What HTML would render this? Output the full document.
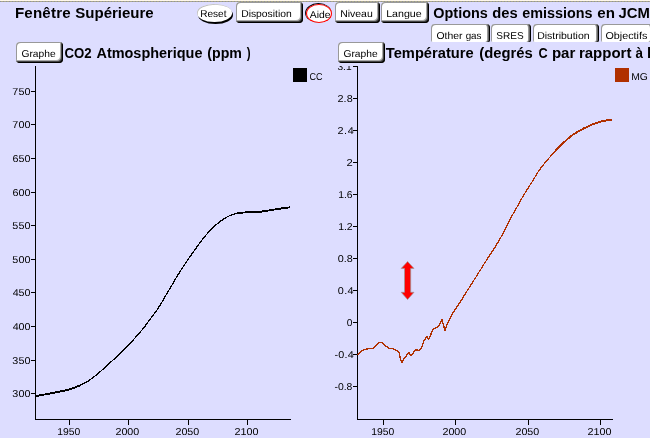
<!DOCTYPE html>
<html lang="fr">
<head>
<meta charset="utf-8">
<title>Fenêtre Supérieure</title>
<style>
html,body{margin:0;padding:0;}
body{width:650px;height:438px;overflow:hidden;background:#ddddff;position:relative;font-family:"Liberation Sans",Arial,sans-serif;color:#000;}
.topline{position:absolute;left:0;top:0;width:650px;height:2px;background:linear-gradient(#fff8ec 0 1px,transparent 1px),repeating-linear-gradient(90deg,#90909c 0 1px,#aba98a 1px 3px);}
.layer{position:absolute;left:0;top:0;}
.grp{position:absolute;left:0;top:0;width:0;height:0;}
.clip{position:absolute;left:0;top:66px;width:650px;height:372px;overflow:hidden;}
.clip .in{position:absolute;left:0;top:-66px;}
.w{position:absolute;white-space:nowrap;line-height:20px;transform:scaleX(1.08);transform-origin:0 0;}
.b{font-weight:bold;font-size:14px;}
.r{font-size:10px;text-rendering:geometricPrecision;}
.btn{position:absolute;box-sizing:border-box;background:#fff;border-radius:4px;
  box-shadow:inset 1px 1px 0 #999, inset -1px -1px 0 #000, inset -2px -2px 0 #444, inset -3px -3px 0 #aaa;}
.oval{position:absolute;box-sizing:border-box;background:#fff;border-radius:50%;}
.ovalbtn{position:absolute;}
.sh{background:#000;}
.reset{box-shadow:inset 0.7px 0.7px 0 #bbb;}
.aide{box-shadow:inset 0 0 0 1.1px #f00, -0.6px -0.6px 0 0.3px #000;}
.tab{position:absolute;box-sizing:border-box;background:#fff;border-radius:4px 4px 2px 2px;
  box-shadow:inset 1px 1px 0 #999, inset -1px 0 0 #000, inset -2px 0 0 #666, inset -3px 0 0 #999;}
</style>
</head>
<body>
<div class="topline"></div>
<svg class="layer" width="650" height="438" viewBox="0 0 650 438">
<g shape-rendering="crispEdges" stroke="#000" stroke-width="1" fill="none">
<path d="M35.5 66V420M35 419.5H291M31 393.5H35M31 360.5H35M31 326.5H35M31 292.5H35M31 259.5H35M31 225.5H35M31 192.5H35M31 158.5H35M31 124.5H35M31 91.5H35M69.5 420V425M128.5 420V425M188.5 420V425M247.5 420V425M357.5 66V420M357 419.5H613M353 66.5H357M353 386.5H357M353 354.5H357M353 322.5H357M353 290.5H357M353 258.5H357M353 226.5H357M353 194.5H357M353 162.5H357M353 130.5H357M353 98.5H357M383.5 420V425M455.5 420V425M528.5 420V425M600.5 420V425"/>
</g>
<g fill="none" stroke="#000" stroke-linejoin="round" shape-rendering="crispEdges">
<path d="M35.6 396.1C37.8 395.7 44.3 394.6 48.5 393.8C52.7 393.0 57.7 391.9 60.8 391.3C63.9 390.7 64.9 390.6 67.0 390.0C69.1 389.5 71.2 388.8 73.2 388.1C75.2 387.3 77.2 386.6 79.3 385.7C81.3 384.8 83.4 383.8 85.5 382.6C87.6 381.5 89.7 380.1 91.7 378.6C93.8 377.1 95.8 375.4 97.8 373.7C99.8 372.0 102.1 370.0 104.0 368.3C105.9 366.5 107.2 365.3 109.4 363.3C111.6 361.3 115.0 358.3 117.3 356.1C119.6 353.9 121.2 352.2 123.4 350.1C125.6 347.9 127.9 345.6 130.2 343.2C132.5 340.8 134.6 338.4 137.0 335.8C139.4 333.1 142.4 329.5 144.4 327.0C146.4 324.5 146.9 323.5 149.1 320.5C151.3 317.6 155.1 312.8 157.5 309.2C159.9 305.6 162.0 301.9 163.7 299.1C165.4 296.2 166.3 294.6 167.8 292.1C169.3 289.6 170.7 287.2 172.6 283.9C174.5 280.6 177.2 276.1 179.5 272.5C181.8 268.8 183.9 265.5 186.3 262.0C188.7 258.5 191.1 255.0 193.7 251.4C196.3 247.8 199.6 243.2 201.8 240.3C204.0 237.4 205.2 236.1 206.9 234.1C208.6 232.2 210.2 230.3 212.0 228.5C213.8 226.7 215.9 224.8 217.9 223.2C219.9 221.6 221.7 220.2 223.8 218.9C225.9 217.6 228.3 216.2 230.6 215.2C232.9 214.3 235.1 213.7 237.4 213.2C239.7 212.7 240.8 212.7 244.2 212.5C247.6 212.3 254.0 212.3 257.7 212.0C261.4 211.7 263.4 211.3 266.2 210.9C269.0 210.5 271.8 210.0 274.6 209.5C277.4 209.1 280.6 208.6 283.1 208.2C285.6 207.8 288.7 207.5 289.8 207.3" stroke-width="1.25"/>
<path d="M35.6 396.1C37.8 395.7 44.3 394.6 48.5 393.8C52.7 393.0 57.7 391.9 60.8 391.3C63.9 390.7 64.9 390.6 67.0 390.0C69.1 389.5 71.2 388.8 73.2 388.1C75.2 387.3 77.2 386.6 79.3 385.7" stroke-width="1.9"/>
<path d="M237.4 213.2C239.7 212.7 240.8 212.7 244.2 212.5C247.6 212.3 254.0 212.3 257.7 212.0C261.4 211.7 263.4 211.3 266.2 210.9C269.0 210.5 271.8 210.0 274.6 209.5C277.4 209.1 280.6 208.6 283.1 208.2C285.6 207.8 288.7 207.5 289.8 207.3" stroke-width="1.9"/>
</g>
<g fill="none" stroke="#b03000" stroke-linejoin="round" shape-rendering="crispEdges">
<path d="M357.8 355.0L362.0 350.6L366.2 349.1L370.0 348.4L373.7 348.3L376.1 345.6L378.4 342.5L382.2 342.5L384.0 344.7L387.3 347.2L389.6 348.4L393.4 348.7L396.2 350.3L399.0 352.2L399.9 356.4L400.9 360.6L402.3 362.5L403.7 359.2L406.5 355.5L409.0 352.6L411.0 355.6L412.6 354.1L415.5 349.7L418.6 350.5L421.6 347.5L423.8 341.2L426.9 336.4L428.4 339.7L430.6 335.2L432.9 329.1L436.6 327.6L438.9 325.4L441.9 319.3L444.9 330.6L447.9 322.4L451.7 314.8" stroke-width="1.4"/>
<path d="M451.7 314.8C452.4 313.7 454.7 310.3 456.2 308.0C457.7 305.8 459.3 303.5 460.8 301.2C462.3 298.9 462.7 297.9 465.1 294.1C467.5 290.3 471.8 283.7 475.1 278.4C478.5 273.0 481.9 267.4 485.2 262.2C488.5 256.9 492.1 251.9 495.2 246.9C498.3 241.8 501.1 237.1 504.0 231.7C506.9 226.3 510.6 218.5 512.8 214.4C515.0 210.3 515.2 210.2 517.0 207.0C518.8 203.8 521.2 199.2 523.7 195.1C526.2 191.0 529.0 186.6 531.7 182.4C534.4 178.1 537.0 173.3 539.7 169.6C542.4 165.8 545.0 162.8 547.7 159.6C550.4 156.5 553.0 153.4 555.7 150.6C558.4 147.7 561.1 145.1 563.7 142.6C566.4 140.1 569.0 137.6 571.6 135.6C574.2 133.6 576.9 132.2 579.6 130.7C582.3 129.1 584.9 127.8 587.6 126.6C590.3 125.3 592.9 124.1 595.6 123.2C598.3 122.2 600.9 121.5 603.6 120.9C606.3 120.3 610.5 119.8 611.9 119.6" stroke-width="1.25"/>
<path d="M555.7 150.6C558.4 147.7 561.1 145.1 563.7 142.6C566.4 140.1 569.0 137.6 571.6 135.6C574.2 133.6 576.9 132.2 579.6 130.7C582.3 129.1 584.9 127.8 587.6 126.6C590.3 125.3 592.9 124.1 595.6 123.2C598.3 122.2 600.9 121.5 603.6 120.9C606.3 120.3 610.5 119.8 611.9 119.6" stroke-width="1.9"/>
</g>
<rect x="293" y="68" width="14" height="14" fill="#000"/>
<rect x="615" y="68" width="14" height="14" fill="#b03000"/>
<path d="M407.6 261.5L414 268.4H410.7V292.3H414L407.6 299.6L401.2 292.3H404.5V268.4H401.2Z" fill="#f00" stroke="#999" stroke-width="0.7"/>
</svg>
<div class="grp" id="h1"><span class="w b" id="w0" style="left:14px;top:3px;letter-spacing:0.17px;transform:translateX(0.92px) scaleX(1.080);">Fenêtre</span> <span class="w b" id="w1" style="left:75px;top:3px;transform:translateX(0.30px) scaleX(1.072);">Supérieure</span></div>
<div class="grp" id="h2"><span class="w b" id="w2" style="left:433px;top:3px;transform:translateX(0.33px) scaleX(1.029);">Options</span> <span class="w b" id="w3" style="left:492px;top:3px;transform:translateX(0.34px) scaleX(1.053);">des</span> <span class="w b" id="w4" style="left:522px;top:3px;transform:translateX(0.37px) scaleX(1.025);">emissions</span> <span class="w b" id="w5" style="left:597px;top:3px;transform:translateX(0.34px) scaleX(1.080);">en</span> <span class="w b" id="w6" style="left:618px;top:3px;transform:translateX(0.53px) scaleX(1.062);">JCM</span></div>

<div class="ovalbtn" style="left:197px;top:4px;width:37px;height:20px;"><i class="oval sh" style="left:1.4px;top:1.9px;width:34.9px;height:17.9px;"></i><i class="oval reset" style="left:0.3px;top:0.4px;width:34.6px;height:17.5px;"></i><span class="w r" id="w18" style="left:3px;top:1px;transform:translateX(0.19px) scaleX(1.006);">Reset</span></div>
<div class="btn" style="left:236px;top:2px;width:67px;height:21px;"><span class="w r" id="w19" style="left:5px;top:3px;transform:translateX(0.16px) scaleX(1.035);">Disposition</span></div>
<div class="ovalbtn" style="left:306px;top:4px;width:26px;height:19px;"><i class="oval aide" style="left:0;top:0;width:26px;height:19px;"></i><span class="w r" id="w20" style="left:3px;top:2px;transform:translateX(0.82px) scaleX(1.035);">Aide</span></div>
<div class="btn" style="left:335px;top:2px;width:45px;height:21px;"><span class="w r" id="w21" style="left:5px;top:3px;transform:translateX(0.14px) scaleX(1.048);">Niveau</span></div>
<div class="btn" style="left:381px;top:2px;width:48px;height:21px;"><span class="w r" id="w22" style="left:5px;top:3px;transform:translateX(0.14px) scaleX(1.064);">Langue</span></div>

<div class="tab" style="left:431px;top:24px;width:59px;height:18px;"><span class="w r" id="w25" style="left:5px;top:3px;transform:translateX(0.52px) scaleX(1.038);">Other</span> <span class="w r" id="w26" style="left:34px;top:3px;transform:translateX(0.63px) scaleX(0.981);">gas</span></div>
<div class="tab" style="left:491px;top:24px;width:40px;height:18px;"><span class="w r" id="w27" style="left:5px;top:3px;transform:translateX(0.21px) scaleX(1.007);">SRES</span></div>
<div class="tab" style="left:533px;top:24px;width:66px;height:18px;"><span class="w r" id="w28" style="left:4px;top:3px;transform:translateX(0.15px) scaleX(1.049);">Distribution</span></div>
<div class="tab" style="left:601px;top:24px;width:52px;height:18px;"><span class="w r" id="w29" style="left:4px;top:3px;transform:translateX(0.50px) scaleX(1.074);">Objectifs</span></div>

<div class="clip"><div class="in"><span class="w r" id="w50" style="left:337px;top:58px;transform:translateX(0.40px) scaleX(1.025);">3.1</span></div></div>
<div class="btn" style="left:16px;top:42px;width:47px;height:21px;"><span class="w r" id="w23" style="left:5px;top:3px;transform:translateX(0.50px) scaleX(1.022);">Graphe</span></div>
<div class="grp" id="h3"><span class="w b" id="w7" style="left:64px;top:43px;transform:translateX(0.39px) scaleX(0.943);">CO2</span> <span class="w b" id="w8" style="left:96px;top:43px;transform:translateX(0.45px) scaleX(1.032);">Atmospherique</span> <span class="w b" id="w9" style="left:207px;top:43px;transform:translateX(0.26px) scaleX(1.013);">(ppm</span> <span class="w b" id="w10" style="left:246px;top:43px;transform:translateX(0.75px) scaleX(0.828);">)</span></div>
<div class="btn" style="left:338px;top:42px;width:47px;height:21px;"><span class="w r" id="w24" style="left:5px;top:3px;transform:translateX(0.50px) scaleX(1.022);">Graphe</span></div>
<div class="grp" id="h4"><span class="w b" id="w11" style="left:385px;top:43px;transform:translateX(0.82px) scaleX(1.048);">Température</span> <span class="w b" id="w12" style="left:479px;top:43px;transform:translateX(0.22px) scaleX(1.057);">(degrés</span> <span class="w b" id="w13" style="left:538px;top:43px;transform:translateX(0.41px) scaleX(0.905);">C</span> <span class="w b" id="w14" style="left:551px;top:43px;transform:translateX(0.93px) scaleX(1.075);">par</span> <span class="w b" id="w15" style="left:578px;top:43px;transform:translateX(0.93px) scaleX(1.071);">rapport</span> <span class="w b" id="w16" style="left:635px;top:43px;transform:translateX(0.60px) scaleX(0.962);">à</span> <span class="w b" id="w17" style="left:646px;top:43px;transform:translateX(0.94px) scaleX(1.060);">l</span></div>

<div class="grp" id="ly"><span class="w r" id="w30" style="left:12px;top:385px;letter-spacing:0.08px;transform:translateX(0.37px) scaleX(1.080);">300</span> <span class="w r" id="w31" style="left:12px;top:352px;letter-spacing:0.08px;transform:translateX(0.37px) scaleX(1.080);">350</span> <span class="w r" id="w32" style="left:12px;top:318px;transform:translateX(0.65px) scaleX(1.073);">400</span> <span class="w r" id="w33" style="left:12px;top:284px;transform:translateX(0.65px) scaleX(1.073);">450</span> <span class="w r" id="w34" style="left:12px;top:251px;letter-spacing:0.10px;transform:translateX(0.32px) scaleX(1.080);">500</span> <span class="w r" id="w35" style="left:12px;top:217px;letter-spacing:0.10px;transform:translateX(0.32px) scaleX(1.080);">550</span> <span class="w r" id="w36" style="left:12px;top:184px;letter-spacing:0.03px;transform:translateX(0.48px) scaleX(1.080);">600</span> <span class="w r" id="w37" style="left:12px;top:150px;letter-spacing:0.03px;transform:translateX(0.48px) scaleX(1.080);">650</span> <span class="w r" id="w38" style="left:12px;top:116px;letter-spacing:0.14px;transform:translateX(0.24px) scaleX(1.080);">700</span> <span class="w r" id="w39" style="left:12px;top:83px;letter-spacing:0.14px;transform:translateX(0.24px) scaleX(1.080);">750</span></div>
<div class="grp" id="lx"><span class="w r" id="w51" style="left:57px;top:423px;transform:translateX(0.17px) scaleX(1.038);">1950</span> <span class="w r" id="w52" style="left:115px;top:423px;transform:translateX(0.45px) scaleX(1.071);">2000</span> <span class="w r" id="w53" style="left:175px;top:423px;transform:translateX(0.45px) scaleX(1.071);">2050</span> <span class="w r" id="w54" style="left:234px;top:423px;transform:translateX(0.40px) scaleX(1.078);">2100</span></div>
<div class="grp" id="leg1"><span class="w r" id="w59" style="left:309px;top:68px;transform:translateX(0.54px) scaleX(0.902);">CC</span></div>
<div class="grp" id="ry"><span class="w r" id="w40" style="left:334px;top:378px;transform:translateX(0.46px) scaleX(1.039);">-0.8</span> <span class="w r" id="w41" style="left:334px;top:346px;letter-spacing:0.20px;transform:translateX(0.42px) scaleX(1.080);">-0.4</span> <span class="w r" id="w42" style="left:346px;top:314px;transform:translateX(0.71px) scaleX(1.021);">0</span> <span class="w r" id="w43" style="left:337px;top:282px;letter-spacing:0.42px;transform:translateX(0.70px) scaleX(1.080);">0.4</span> <span class="w r" id="w44" style="left:337px;top:250px;transform:translateX(0.64px) scaleX(1.080);">0.8</span> <span class="w r" id="w45" style="left:338px;top:218px;transform:translateX(0.15px) scaleX(1.045);">1.2</span> <span class="w r" id="w46" style="left:338px;top:186px;transform:translateX(0.17px) scaleX(1.036);">1.6</span> <span class="w r" id="w47" style="left:346px;top:154px;transform:translateX(0.43px) scaleX(1.115);">2</span> <span class="w r" id="w48" style="left:337px;top:122px;letter-spacing:0.55px;transform:translateX(0.45px) scaleX(1.080);">2.4</span> <span class="w r" id="w49" style="left:337px;top:90px;letter-spacing:0.09px;transform:translateX(0.45px) scaleX(1.080);">2.8</span></div>
<div class="grp" id="rx"><span class="w r" id="w55" style="left:371px;top:423px;transform:translateX(0.17px) scaleX(1.038);">1950</span> <span class="w r" id="w56" style="left:442px;top:423px;transform:translateX(0.45px) scaleX(1.071);">2000</span> <span class="w r" id="w57" style="left:515px;top:423px;transform:translateX(0.45px) scaleX(1.071);">2050</span> <span class="w r" id="w58" style="left:587px;top:423px;transform:translateX(0.40px) scaleX(1.078);">2100</span></div>
<div class="grp" id="leg2"><span class="w r" id="w60" style="left:631px;top:68px;transform:translateX(0.16px) scaleX(1.035);">MG</span></div>
</body>
</html>
